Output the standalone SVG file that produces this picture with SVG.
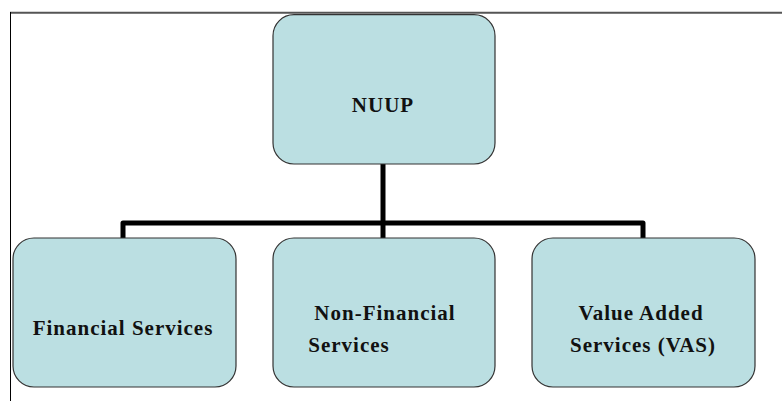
<svg xmlns="http://www.w3.org/2000/svg" width="782" height="401" viewBox="0 0 782 401">
  <style>
    .box { fill: #bbdfe2; stroke: #333333; stroke-width: 1.2; }
    .lbl { font-family: "Liberation Serif", "Times New Roman", serif; font-weight: bold; font-size: 21px; fill: #111111; letter-spacing: 1px; text-anchor: middle; }
    .conn { fill: none; stroke: #000000; stroke-width: 5; stroke-linejoin: round; }
  </style>
  <rect x="0" y="0" width="782" height="401" fill="#ffffff"/>
  <g id="frame">
    <line x1="10" y1="12.8" x2="782" y2="12.8" stroke="#555555" stroke-width="2"/>
    <line x1="10.5" y1="12" x2="10.5" y2="401" stroke="#000000" stroke-width="1"/>
  </g>
  <g id="connectors">
    <path class="conn" d="M383,164 V238"/>
    <path class="conn" d="M123,238 V223 H643 V238"/>
  </g>
  <g id="nuup">
    <rect class="box" x="273" y="14.7" width="222" height="149.3" rx="21" ry="21"/>
    <text class="lbl" x="383" y="112">NUUP</text>
  </g>
  <g id="financial">
    <rect class="box" x="13" y="238" width="223" height="149" rx="21" ry="21"/>
    <text class="lbl" x="123" y="335">Financial Services</text>
  </g>
  <g id="nonfinancial">
    <rect class="box" x="273" y="238" width="222" height="149" rx="21" ry="21"/>
    <text class="lbl" x="385" y="320">Non-Financial</text>
    <text class="lbl" x="349" y="352">Services</text>
  </g>
  <g id="vas">
    <rect class="box" x="532" y="238" width="223" height="149" rx="21" ry="21"/>
    <text class="lbl" x="641" y="320">Value Added</text>
    <text class="lbl" x="643" y="352">Services (VAS)</text>
  </g>
</svg>
